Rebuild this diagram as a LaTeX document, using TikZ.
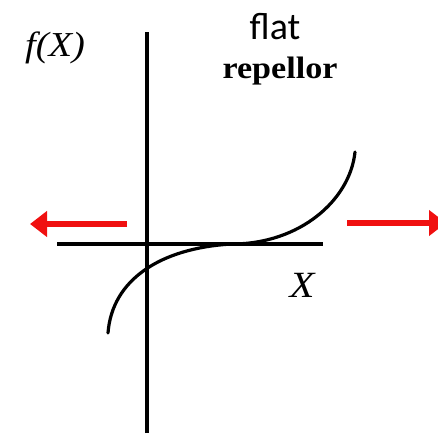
\documentclass[tikz,border=0pt]{standalone}
\usepackage{fontspec}
\setmainfont{Liberation Serif}
\newfontfamily\labelsans{Carlito}
\usetikzlibrary{arrows.meta}
\definecolor{pushred}{HTML}{F01010}
\tikzset{
  >={Triangle[length=17pt,width=25pt]},
  % achsen und kurve
  axis/.style={draw=black,line width=3.2pt},
  fcurve/.style={draw=black,line width=3.2pt,line cap=round},
  push/.style={->,draw=pushred,fill=pushred,line width=6pt},
  scan/.style={inner sep=0pt,xscale=1.1},
}
\begin{document}
\begin{tikzpicture}[x=1pt,y=-1pt]
  \useasboundingbox (0,0) rectangle (438,435);
  % achsen
  \coordinate (ytop) at (147,32);
  \coordinate (ybot) at (147,433);
  \coordinate (xl) at (57,244);
  \coordinate (xr) at (323,244);
  \draw[axis] (ybot) -- (ytop);
  \draw[axis] (xl) -- (xr);
  % kurve
  \coordinate (c0) at (108,333);
  \coordinate (cflat) at (232,244);
  \coordinate (c1) at (355,152);
  \draw[fcurve] (c0) .. controls (112,280) and (160,248) .. (cflat)
    .. controls (300,244) and (350,200) .. (c1);
  % labels
  \node[scan,font=\fontsize{35}{35}\selectfont\itshape] (fx) at (55,48) {f(X)};
  \node[scan,font=\fontsize{37}{37}\selectfont\itshape] (xlab) at (302,285) {X};
  \node[inner sep=0pt,font=\fontsize{38}{38}\labelsans] (flat) at (275,27) {flat};
  \node[scan,font=\fontsize{31}{31}\selectfont\bfseries] (rep) at (280,71) {repellor};
  % pfeile
  \coordinate (la) at (127,224);
  \coordinate (lb) at (30,224);
  \coordinate (ra) at (347,223);
  \coordinate (rb) at (446,223);
  \draw[push] (la) -- (lb);
  \draw[push] (ra) -- (rb);
\end{tikzpicture}
\end{document}
